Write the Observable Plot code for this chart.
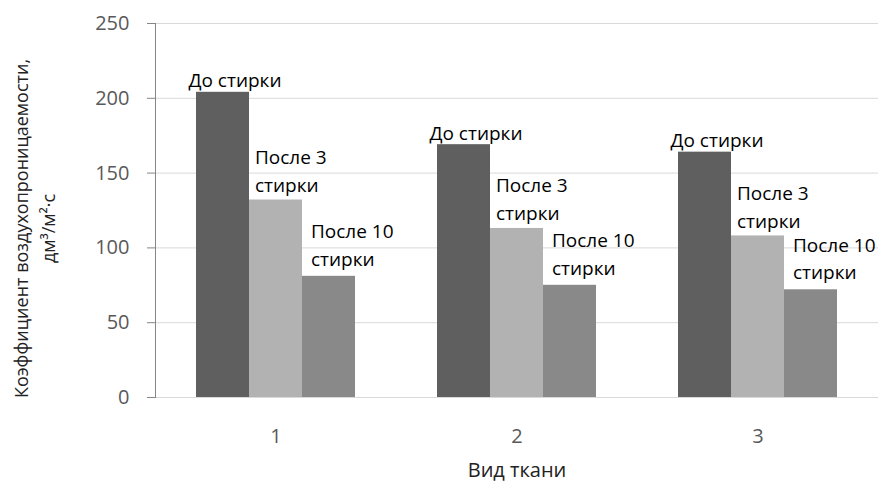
<!DOCTYPE html>
<html><head><meta charset="utf-8">
<script src="https://cdn.jsdelivr.net/npm/d3@7"></script>
<script src="https://cdn.jsdelivr.net/npm/@observablehq/plot@0.6"></script>
<style>body{margin:0;background:#fff}</style>
</head><body><div id="chart"></div>
<script>
const categories = ["1", "2", "3"];
const series = ["До стирки", "После 3 стирки", "После 10 стирки"];
const seriesLabels = ["До стирки", "После 3\nстирки", "После 10\nстирки"];
const beforeWash = [204, 169, 164];
const after3 = [132, 113, 108];
const after10 = [81, 75, 72];
const yTicks = [0, 50, 100, 150, 200, 250];
const colors = ["#5f5f5f", "#b2b2b2", "#898989"];
const xTitle = "Вид ткани";
const yTitle = "Коэффициент воздухопроницаемости,\nдм³/м²·с";

const valuesBySeries = [beforeWash, after3, after10];
const data = [];
categories.forEach((c, i) => series.forEach((s, j) =>
  data.push({cat: c, series: s, label: seriesLabels[j], value: valuesBySeries[j][i]})));

const labelStyle = {fx: "cat", x: "series", y: "value", text: "label", fontSize: 19, lineHeight: 1.45, lineAnchor: "middle", fill: "#000"};

const chart = Plot.plot({
  width: 878, height: 484,
  marginLeft: 154, marginRight: 0, marginTop: 23, marginBottom: 87,
  style: {fontFamily: "'Open Sans', sans-serif", background: "#fff"},
  fx: {domain: categories, padding: 0, label: null},
  x: {domain: series, paddingInner: 0, paddingOuter: 0.75, axis: null},
  y: {domain: [0, 250], label: null},
  color: {domain: series, range: colors},
  marks: [
    Plot.gridY(yTicks, {stroke: "#d9d9d9", strokeOpacity: 1}),
    Plot.ruleY([0], {stroke: "#d9d9d9"}),
    Plot.barY(data, {fx: "cat", x: "series", y: "value", fill: "series"}),
    Plot.frame({anchor: "left", stroke: "#868686", facetAnchor: "left"}),
    Plot.axisY(yTicks, {tickSize: 8, tickPadding: 18, fontSize: 20, fill: "#595959", stroke: "#868686", label: null}),
    Plot.axisFx({anchor: "bottom", tickSize: 0, tickPadding: 31, fontSize: 20, fill: "#595959", label: null}),
    Plot.text(data.filter(d => d.series === series[0]), {...labelStyle, textAnchor: "middle", dx: 12, dy: -14}),
    Plot.text(data.filter(d => d.series === series[1]), {...labelStyle, textAnchor: "start", dx: -21, dy: -31}),
    Plot.text(data.filter(d => d.series === series[2]), {...labelStyle, textAnchor: "start", dx: -18, dy: -33}),
    Plot.text([{fx: "2", t: xTitle}], {fx: "fx", text: "t", frameAnchor: "bottom", dy: 73, lineAnchor: "middle", fontSize: 20, fill: "#222"}),
    Plot.text([{fx: "1", t: yTitle}], {fx: "fx", text: "t", frameAnchor: "left", textAnchor: "middle", rotate: -90, dx: -123, dy: 18, lineAnchor: "middle", lineHeight: 1.5, fontSize: 18, fill: "#222"})
  ]
});
document.getElementById("chart").appendChild(chart);
</script>
</body></html>
